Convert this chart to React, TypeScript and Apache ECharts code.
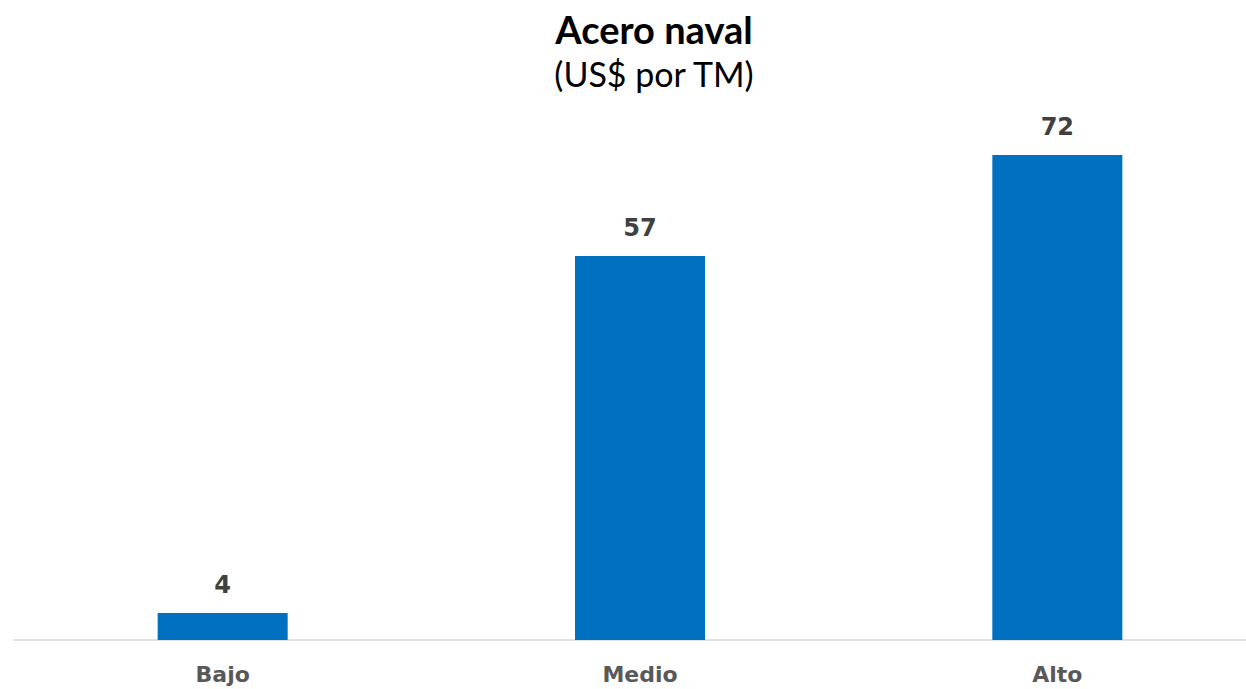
import React, { useEffect, useRef } from "react";
import * as echarts from "echarts";

const categories = ["Bajo", "Medio", "Alto"];
const values = [4, 57, 72];
const titleText = "Acero naval";
const subtitleText = "(US$ por TM)";

export default function App() {
  const ref = useRef<HTMLDivElement>(null);
  useEffect(() => {
    if (!ref.current) return;
    const chart = echarts.init(ref.current, undefined, { renderer: "svg" });
    chart.setOption({
      animation: false,
      backgroundColor: "#ffffff",
      title: {
        text: titleText,
        subtext: subtitleText,
        left: 649,
        textAlign: "center",
        top: 5,
        itemGap: 8,
        textStyle: { fontFamily: "Lato", fontWeight: "bold", fontSize: 38, color: "#000000" },
        subtextStyle: { fontFamily: "Lato", fontWeight: "normal", fontSize: 34, color: "#000000" },
      },
      grid: { left: 14, right: 0, top: 101, bottom: 49, containLabel: false },
      xAxis: {
        type: "category",
        data: categories,
        axisLine: { show: true, lineStyle: { color: "#d9d9d9", width: 1.5 } },
        axisTick: { show: false },
        axisLabel: {
          margin: 23,
          color: "#595959",
          fontFamily: "DejaVu Sans",
          fontWeight: "bold",
          fontSize: 22,
        },
      },
      yAxis: {
        type: "value",
        min: 0,
        max: 80,
        show: false,
        splitLine: { show: false },
      },
      series: [
        {
          type: "bar",
          data: values,
          barWidth: 130,
          itemStyle: { color: "#0070C0" },
          label: {
            show: true,
            position: "top",
            distance: 16,
            color: "#404040",
            fontFamily: "DejaVu Sans",
            fontWeight: "bold",
            fontSize: 24,
          },
        },
      ],
    });
    return () => chart.dispose();
  }, []);
  return (
    <div style={{ position: "absolute", left: 0, top: 0, width: 1246, height: 689, overflow: "hidden" }}>
      <div ref={ref} style={{ width: 1266, height: 689 }} />
    </div>
  );
}
